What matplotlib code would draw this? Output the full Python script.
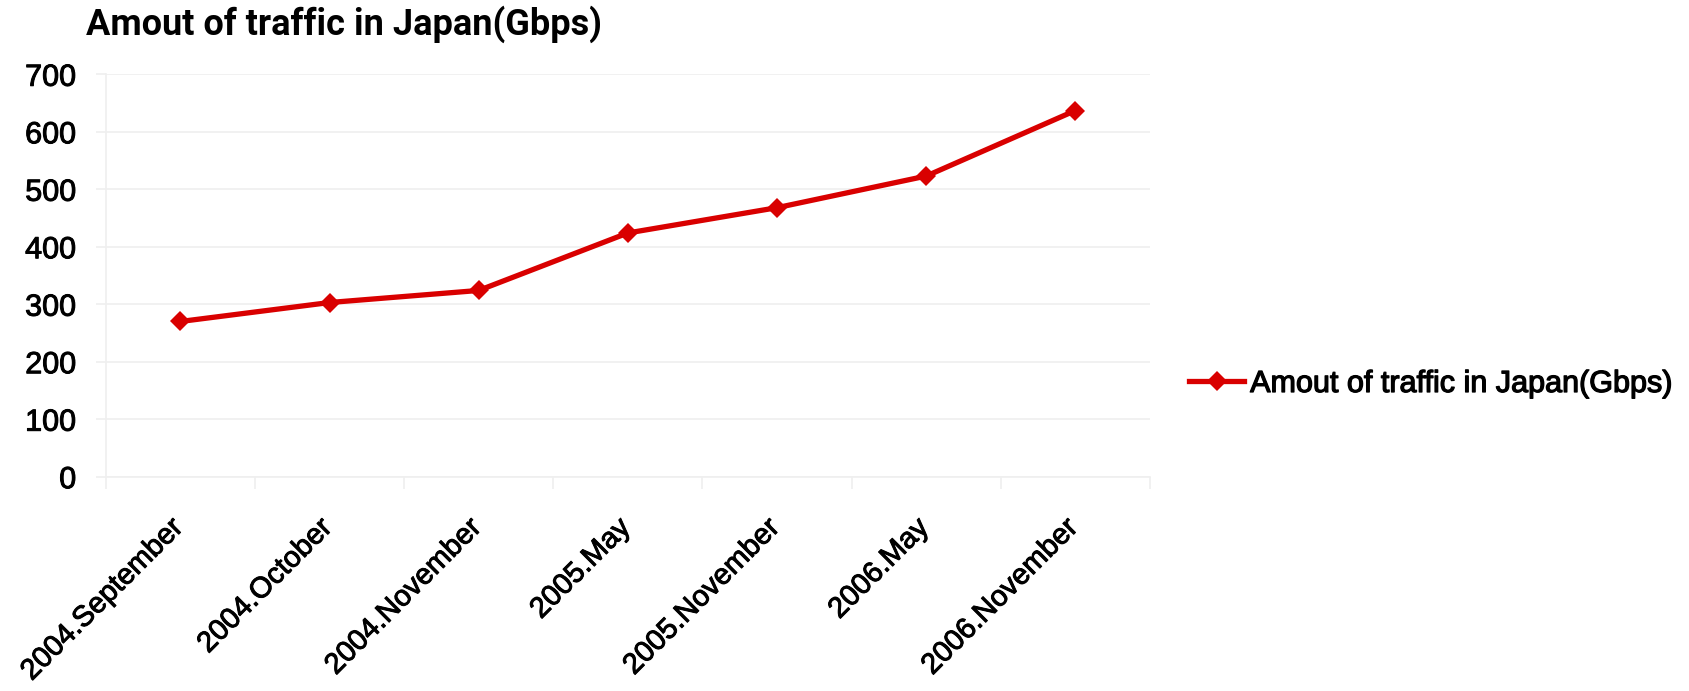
import matplotlib
matplotlib.use("Agg")
import matplotlib.pyplot as plt
import matplotlib.patheffects as pe
from matplotlib.transforms import ScaledTranslation
import numpy as np

categories = ["2004.September", "2004.October", "2004.November", "2005.May",
              "2005.November", "2006.May", "2006.November"]
traffic = [270, 303, 324, 424, 468, 523, 637]
series_name = "Amout of traffic in Japan(Gbps)"
title = "Amout of traffic in Japan(Gbps)"
yticks = [0, 100, 200, 300, 400, 500, 600, 700]

W, H = 1689, 691
fig = plt.figure(figsize=(W / 100, H / 100), dpi=100)
ax = fig.add_axes([105.8 / W, 1 - 476.7 / H, (1150 - 105.8) / W, (476.7 - 74.3) / H])

red = "#d90000"
grid_c = "#efefef"
x = np.arange(len(categories))
ax.plot(x, traffic, color=red, lw=3.8, marker="D", ms=10.5, mew=0,
        label=series_name, solid_joinstyle="round", zorder=3)

ax.set_xlim(-0.5, len(categories) - 0.5)
ax.set_ylim(0, 700)
ax.set_yticks(yticks)
ax.set_yticklabels([str(v) for v in yticks])
ax.yaxis.grid(True, color=grid_c, lw=1.2)
ax.set_axisbelow(True)

for s in ["top", "right"]:
    ax.spines[s].set_visible(False)
for s in ["left", "bottom"]:
    ax.spines[s].set_color(grid_c)
    ax.spines[s].set_linewidth(1.2)

ax.set_xticks(x)
ax.set_xticklabels(categories)
ax.set_xticks(np.arange(-0.5, len(categories)), minor=True)
ax.tick_params(axis="x", which="major", length=0, pad=26.5)
ax.tick_params(axis="x", which="minor", length=8.6, width=1.2, color=grid_c)
ax.tick_params(axis="y", which="major", length=7.2, width=1.2, color=grid_c, pad=14)

thick = [pe.withStroke(linewidth=0.7, foreground="black")]
shift = ScaledTranslation(-12 / 100, 0, fig.dpi_scale_trans)
for lab in ax.get_xticklabels():
    lab.set_rotation(45)
    lab.set_ha("right")
    lab.set_va("top")
    lab.set_rotation_mode("anchor")
    lab.set_fontfamily("Liberation Sans")
    lab.set_fontsize(21)
    lab.set_path_effects(thick)
    lab.set_transform(lab.get_transform() + shift)
for lab in ax.get_yticklabels():
    lab.set_fontfamily("Liberation Sans")
    lab.set_fontsize(22)
    lab.set_path_effects(thick)

fig.text(86 / W, 1 - 35 / H, title, fontfamily=["Roboto", "Liberation Sans"],
         fontweight="bold", fontsize=26, ha="left", va="baseline")

leg = fig.legend(loc="center left", bbox_to_anchor=(1189 / W, 1 - 384 / H),
                 bbox_transform=fig.transFigure, frameon=False, borderpad=0,
                 borderaxespad=0, handlelength=1.8, handletextpad=0.2,
                 prop={"family": "Liberation Sans", "size": 22})
for t in leg.get_texts():
    t.set_path_effects([pe.withStroke(linewidth=0.9, foreground="black")])

fig.savefig("out.png", dpi=100)
